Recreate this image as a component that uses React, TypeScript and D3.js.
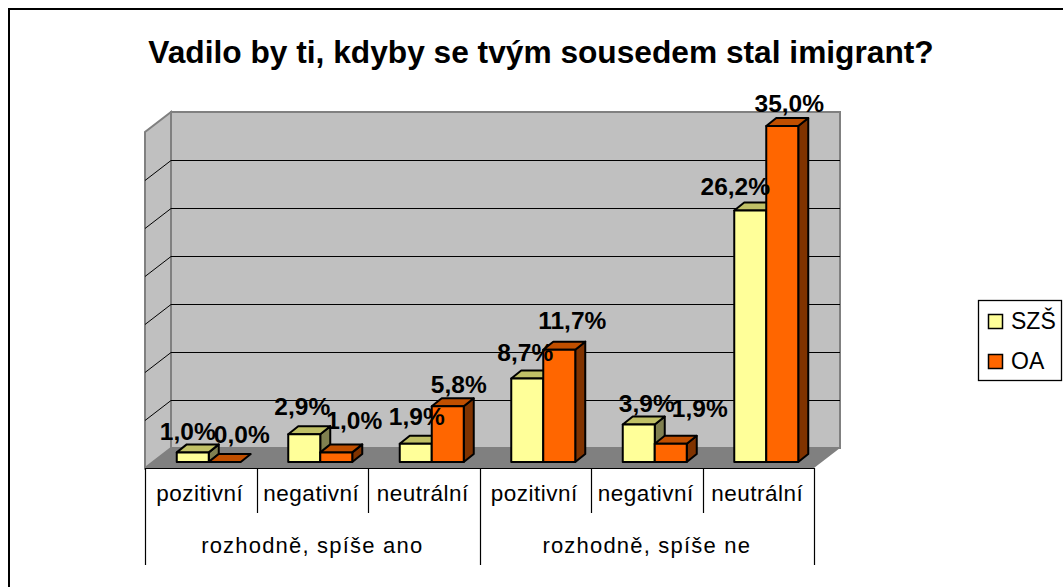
import * as d3 from "d3";
import React, {useRef, useEffect} from "react";

const title = "Vadilo by ti, kdyby se tvým sousedem stal imigrant?";
const categories = ["a-pozitivni", "a-negativni", "a-neutralni", "n-pozitivni", "n-negativni", "n-neutralni"];
const categoryLabels = ["pozitivní", "negativní", "neutrální", "pozitivní", "negativní", "neutrální"];
const groupLabels = ["rozhodně, spíše ano", "rozhodně, spíše ne"];
const seriesNames = ["SZŠ", "OA"];
const szs = [1.0, 2.9, 1.9, 8.7, 3.9, 26.2];
const oa = [0.0, 1.0, 5.8, 11.7, 1.9, 35.0];
const yTicks = [0, 5, 10, 15, 20, 25, 30, 35];

const faceColors = {
    "SZŠ": {front: "#FFFF99", top: "#C0C066", side: "#808050"},
    "OA": {front: "#FF6600", top: "#C04F00", side: "#803300"},
};

// the labels were dragged around by hand in the original chart: [dx from bar center, dy from bar top]
const labelNudge = {
    "SZŠ": [[-5, -12], [-2, -19], [1, -19], [-2, -17], [8, -13], [-15, -15]],
    "OA": [[17, -19], [18, -23], [11, -13], [13, -21], [29, -27], [7, -14]],
};

const font = "'Liberation Sans', Arial, sans-serif";

export default function App() {

    const ref = useRef(null);

    useEffect(() => {

        const svg = d3.select(ref.current);
        svg.selectAll("*").remove();

        // plot box, front plane of the 3D floor
        const left = 145, right = 814, floorY = 468;
        const wallDx = 26, wallDy = 20;
        const barDx = 10, barDy = 8;

        const y = d3.scaleLinear().domain([0, 35]).range([462, 126]);
        const x0 = d3.scaleBand().domain(categories).range([left + 8, right + 8]);
        const innerWidth = 64;

        // outer frame, cut by the picture on the right and at the bottom
        svg.append("path")
            .attr("d", "M9,587V9H1063")
            .attr("fill", "none")
            .attr("stroke", "#000")
            .attr("stroke-width", 2);

        svg.append("text")
            .text(title)
            .attr("x", 541)
            .attr("y", 63)
            .attr("text-anchor", "middle")
            .attr("font-family", font)
            .attr("font-weight", "bold")
            .attr("font-size", 31.7);

        const wallTop = y(35) - 14;
        const wallBottom = floorY - wallDy;

        // side wall
        svg.append("path")
            .attr("d", `M${left},${floorY}V${wallTop + wallDy}L${left + wallDx},${wallTop}V${wallBottom}Z`)
            .attr("fill", "#C0C0C0")
            .attr("stroke", "#808080")
            .attr("stroke-width", 2);

        // back wall
        svg.append("rect")
            .attr("x", left + wallDx)
            .attr("y", wallTop)
            .attr("width", right - left)
            .attr("height", wallBottom - wallTop)
            .attr("fill", "#C0C0C0")
            .attr("stroke", "#808080")
            .attr("stroke-width", 2);

        // floor
        svg.append("path")
            .attr("d", `M${left},${floorY}L${left + wallDx},${wallBottom}H${right + wallDx}L${right},${floorY}Z`)
            .attr("fill", "#808080");

        // gridlines: back wall and side wall
        const gridStep = (wallBottom - wallTop) / (yTicks.length - 1);
        const gridY = yTicks.slice(1, -1).map((t, i) => wallBottom - gridStep * (i + 1));
        gridY.forEach(gy => {
            svg.append("path")
                .attr("d", `M${left},${gy + wallDy + 0.5}L${left + wallDx},${gy + 0.5}H${right + wallDx}`)
                .attr("fill", "none")
                .attr("stroke", "#000")
                .attr("stroke-width", 1);
        });

        const rows = categories.map((c, i) => ({c, values: [szs[i], oa[i]]}));

        // bars
        rows.forEach(row => {
            const center = x0(row.c) + x0.bandwidth() / 2;
            const x1 = d3.scaleBand().domain(seriesNames).range([center - innerWidth / 2, center + innerWidth / 2]);
            seriesNames.forEach((name, j) => {
                const v = row.values[j];
                const colors = faceColors[name];
                const bx = x1(name), bw = x1.bandwidth();
                const top = y(v), bottom = y(0);
                const g = svg.append("g")
                    .attr("stroke", "#000")
                    .attr("stroke-width", 2)
                    .attr("stroke-linejoin", "round");
                if (v > 0) {
                    g.append("path")
                        .attr("d", `M${bx + bw},${bottom}V${top}l${barDx},${-barDy}V${bottom - barDy}Z`)
                        .attr("fill", colors.side);
                }
                g.append("path")
                    .attr("d", `M${bx},${top}h${bw}l${barDx},${-barDy}h${-bw}Z`)
                    .attr("fill", colors.top);
                if (v > 0) {
                    g.append("rect")
                        .attr("x", bx)
                        .attr("y", top)
                        .attr("width", bw)
                        .attr("height", bottom - top)
                        .attr("fill", colors.front);
                }
            });
        });

        // value labels go over all the bars
        rows.forEach((row, i) => {
            const center = x0(row.c) + x0.bandwidth() / 2;
            const x1 = d3.scaleBand().domain(seriesNames).range([center - innerWidth / 2, center + innerWidth / 2]);
            seriesNames.forEach((name, j) => {
                const v = row.values[j];
                const [dx, dy] = labelNudge[name][i];
                svg.append("text")
                    .text(d3.format(".1f")(v).replace(".", ",") + "%")
                    .attr("x", x1(name) + x1.bandwidth() / 2 + dx)
                    .attr("y", y(v) + dy)
                    .attr("text-anchor", "middle")
                    .attr("font-family", font)
                    .attr("font-weight", "bold")
                    .attr("font-size", 24.5);
            });
        });

        // category table under the floor
        const axisX = d3.scaleBand().domain(categories).range([left, right]);
        const axis = svg.append("g").attr("stroke", "#000").attr("stroke-width", 1.2);
        axis.append("line")
            .attr("x1", left).attr("x2", right)
            .attr("y1", floorY + 0.5).attr("y2", floorY + 0.5);
        categories.forEach((c, i) => {
            const lx = Math.round(axisX(c)) + 0.5;
            axis.append("line")
                .attr("x1", lx).attr("x2", lx)
                .attr("y1", floorY).attr("y2", i % 3 === 0 ? 565 : 513);
        });
        axis.append("line")
            .attr("x1", right + 0.5).attr("x2", right + 0.5)
            .attr("y1", floorY).attr("y2", 565);

        categories.forEach((c, i) => {
            svg.append("text")
                .text(categoryLabels[i])
                .attr("x", axisX(c) + axisX.bandwidth() / 2 - 1)
                .attr("y", 501)
                .attr("text-anchor", "middle")
                .attr("font-family", font)
                .attr("font-size", 22.5)
                .attr("letter-spacing", 0.5);
        });
        groupLabels.forEach((label, i) => {
            const mid = axisX(categories[i * 3]) + axisX.bandwidth() * 1.5;
            svg.append("text")
                .text(label)
                .attr("x", mid)
                .attr("y", 553)
                .attr("text-anchor", "middle")
                .attr("font-family", font)
                .attr("font-size", 22)
                .attr("letter-spacing", 1.2);
        });

        // legend
        svg.append("rect")
            .attr("x", 978.5).attr("y", 300.5)
            .attr("width", 83).attr("height", 80)
            .attr("fill", "#fff")
            .attr("stroke", "#000")
            .attr("stroke-width", 1.3);
        seriesNames.forEach((name, i) => {
            svg.append("rect")
                .attr("x", 988.5).attr("y", 314.5 + i * 40)
                .attr("width", 14).attr("height", 14)
                .attr("fill", faceColors[name].front)
                .attr("stroke", "#000")
                .attr("stroke-width", 1.5);
            svg.append("text")
                .text(name)
                .attr("x", 1011)
                .attr("y", 329 + i * 40)
                .attr("font-family", font)
                .attr("font-size", 23);
        });

    }, []);

    return (
        <svg ref={ref} width={1063} height={587}
             style={{position: "absolute", left: 0, top: 0, background: "#fff"}}/>
    );
}
